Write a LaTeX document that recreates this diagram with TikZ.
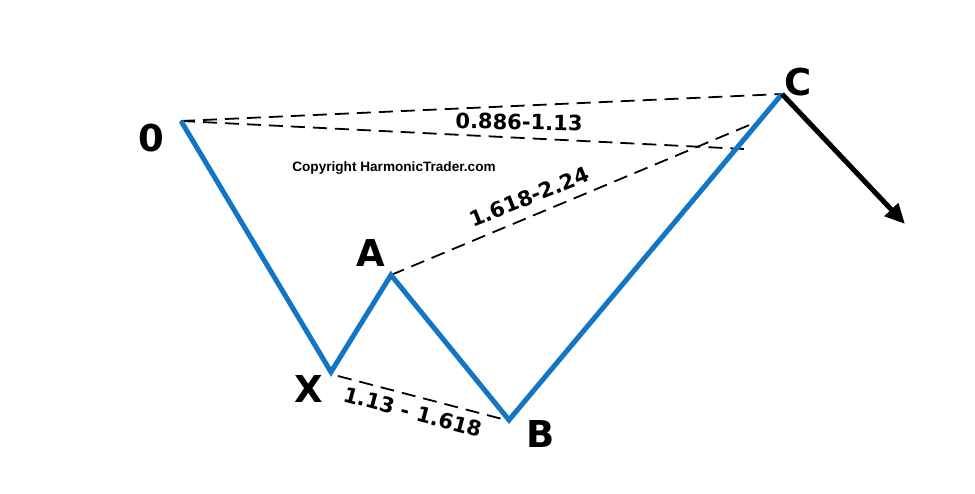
\documentclass[tikz,border=0pt]{standalone}
\usepackage{fontspec}
\setmainfont{DejaVu Sans}
\newfontfamily\copyfont{Liberation Sans}
\usetikzlibrary{arrows.meta}
\definecolor{legblue}{RGB}{18,118,196}
\tikzset{>={Triangle[width=18pt,length=20pt]},
  leg/.style = {draw=legblue, line width=5pt, line join=miter},
  ratio/.style = {draw=black, line width=1.8pt, dash pattern=on 14pt off 8pt},
  point/.style = {font=\fontsize{37}{37}\selectfont\bfseries, inner sep=0pt},
  fib/.style = {font=\fontsize{21}{21}\selectfont\bfseries, inner sep=0pt},
}

\begin{document}
\begin{tikzpicture}[x=1pt, y=-1pt]
  \useasboundingbox (0,0) rectangle (975,494);
  \coordinate (o) at (181,121);
  \coordinate (x) at (331,372);
  \coordinate (a) at (391,275);
  \coordinate (b) at (509,420);
  \coordinate (c) at (782,94);
  \coordinate (oc_end) at (744,149);
  \coordinate (ac_end) at (759,121);
  \coordinate (xb_start) at (338,376);
  \coordinate (xb_end) at (506,420);
  \coordinate (tip) at (905,224);
  % ratio lines
  \draw[ratio] (o) -- (c);
  \draw[ratio] (o) -- (oc_end);
  \draw[ratio] (a) -- (ac_end);
  \draw[ratio] (xb_start) -- (xb_end);
  % pattern
  \draw[leg] (o) -- (x) -- (a) -- (b) -- (c);
  \draw[->, line width=5pt] (c) -- (tip);
  % labels
  \node (o_lbl) [point] at (151,138) {0};
  \node (x_lbl) [point] at (309,389) {X};
  \node (a_lbl) [point] at (371,253) {A};
  \node (b_lbl) [point] at (541,434) {B};
  \node (c_lbl) [point] at (798,82) {C};
  \node (xc_lbl) [fib, rotate=-1] at (519,122) {0.886-1.13};
  \node (ab_lbl) [fib, rotate=22] at (529,197) {1.618-2.24};
  \node (xb_lbl) [fib, rotate=-15] at (413,412) {1.13 - 1.618};
  \node (copy_lbl) [font=\copyfont\fontsize{13.6}{14}\selectfont\bfseries, inner sep=0pt] at (394,168) {Copyright HarmonicTrader.com};
\end{tikzpicture}
\end{document}
